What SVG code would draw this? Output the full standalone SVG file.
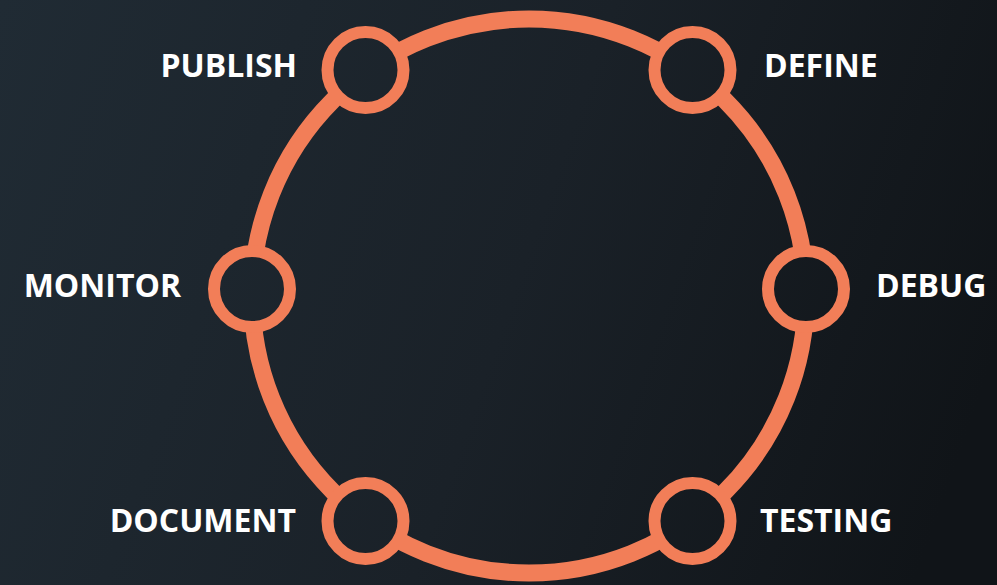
<svg xmlns="http://www.w3.org/2000/svg" width="997" height="585" viewBox="0 0 997 585">
  <defs>
    <linearGradient id="bg" gradientUnits="userSpaceOnUse" x1="0" y1="0" x2="997" y2="350">
      <stop offset="0" stop-color="#202b34"/>
      <stop offset="0.55" stop-color="#1a2128"/>
      <stop offset="1" stop-color="#101418"/>
    </linearGradient>
    <style>
      .ring { fill: none; stroke: #f27e58; stroke-width: 17; }
      .node { fill: url(#bg); stroke: #f27e58; stroke-width: 12; }
      .lbl { font-family: "Open Sans", "Liberation Sans", sans-serif; font-weight: 700; font-size: 32px; fill: #ffffff; }
    </style>
  </defs>
  <rect width="997" height="585" fill="url(#bg)"/>
  <g id="connectors">
    <circle class="ring" cx="529" cy="296" r="277"/>
  </g>
  <g id="publish">
    <circle class="node" cx="365.5" cy="70" r="38"/>
    <text class="lbl" x="297" y="77" text-anchor="end">PUBLISH</text>
  </g>
  <g id="define">
    <circle class="node" cx="692.5" cy="70" r="38"/>
    <text class="lbl" x="764" y="77">DEFINE</text>
  </g>
  <g id="monitor">
    <circle class="node" cx="252" cy="289" r="38"/>
    <text class="lbl" x="181" y="297" text-anchor="end">MONITOR</text>
  </g>
  <g id="debug">
    <circle class="node" cx="806" cy="289" r="38"/>
    <text class="lbl" x="876" y="297">DEBUG</text>
  </g>
  <g id="document">
    <circle class="node" cx="365.5" cy="521" r="38"/>
    <text class="lbl" x="296" y="532" text-anchor="end">DOCUMENT</text>
  </g>
  <g id="testing">
    <circle class="node" cx="692.5" cy="521" r="38"/>
    <text class="lbl" x="760" y="532">TESTING</text>
  </g>
</svg>
